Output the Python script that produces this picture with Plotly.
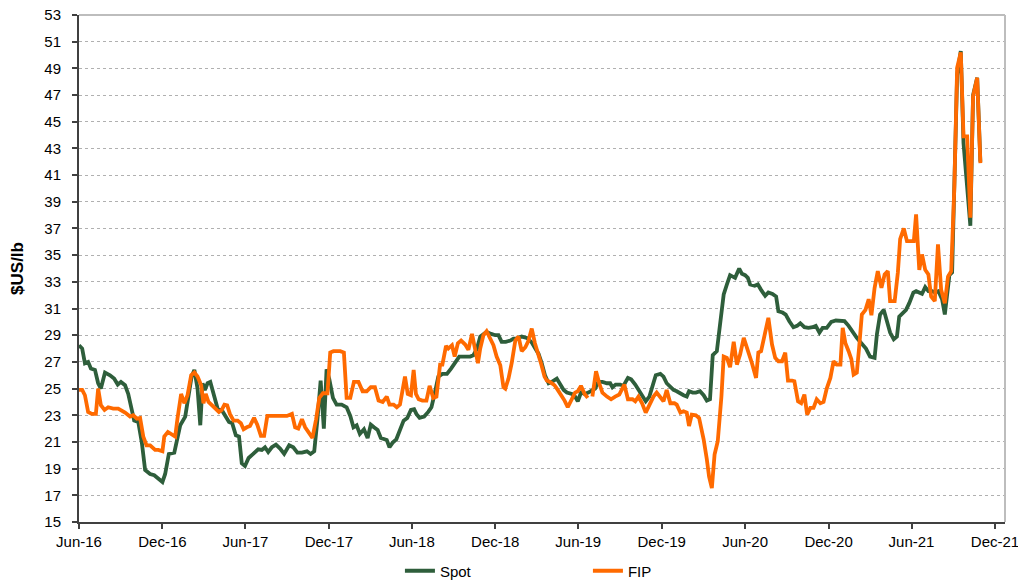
import plotly.graph_objects as go

spot_dates = [
"2016-06-01","2016-06-08","2016-06-14","2016-06-21","2016-06-27","2016-07-06","2016-07-13","2016-07-19","2016-07-28","2016-08-08",
"2016-08-17","2016-08-25","2016-09-01","2016-09-10","2016-09-17","2016-09-25","2016-09-30","2016-10-09","2016-10-17","2016-10-24",
"2016-11-04","2016-11-13","2016-11-22","2016-12-01","2016-12-07","2016-12-15","2016-12-27","2017-01-01","2017-01-09","2017-01-20",
"2017-01-27","2017-02-03","2017-02-09","2017-02-16","2017-02-22","2017-02-27","2017-03-04","2017-03-10","2017-03-16","2017-03-25",
"2017-04-01","2017-04-10","2017-04-17","2017-04-26","2017-05-03","2017-05-11","2017-05-18","2017-05-24","2017-05-31","2017-06-08",
"2017-06-18","2017-06-29","2017-07-07","2017-07-14","2017-07-21","2017-07-29","2017-08-07","2017-08-16","2017-08-25","2017-09-05",
"2017-09-14","2017-09-23","2017-10-03","2017-10-14","2017-10-22","2017-10-30","2017-11-06","2017-11-13","2017-11-20","2017-11-26",
"2017-12-02","2017-12-10","2017-12-18","2017-12-29","2018-01-09","2018-01-17","2018-01-24","2018-01-31","2018-02-07","2018-02-16",
"2018-02-24","2018-03-03","2018-03-10","2018-03-18","2018-03-25","2018-04-01","2018-04-07","2018-04-13","2018-04-20","2018-04-28",
"2018-05-05","2018-05-14","2018-05-22","2018-05-30","2018-06-06","2018-06-11","2018-06-18","2018-06-28","2018-07-07","2018-07-14",
"2018-07-21","2018-07-29","2018-08-07","2018-08-17","2018-08-26","2018-09-04","2018-09-13","2018-09-24","2018-10-07","2018-10-14",
"2018-10-22","2018-10-29","2018-11-05","2018-11-12","2018-11-22","2018-12-01","2018-12-08","2018-12-15","2018-12-24","2019-01-03",
"2019-01-10","2019-01-17","2019-01-28","2019-02-08","2019-02-18","2019-02-25","2019-03-06","2019-03-13","2019-03-20","2019-03-28",
"2019-04-04","2019-04-15","2019-04-22","2019-04-30","2019-05-07","2019-05-18","2019-05-25","2019-05-31","2019-06-07","2019-06-15",
"2019-06-23","2019-07-01","2019-07-08","2019-07-15","2019-07-24","2019-08-03","2019-08-10","2019-08-15","2019-08-22","2019-09-01",
"2019-09-08","2019-09-18","2019-09-25","2019-10-04","2019-10-13","2019-10-20","2019-10-27","2019-11-04","2019-11-11","2019-11-18",
"2019-11-28","2019-12-05","2019-12-12","2019-12-20","2019-12-27","2020-01-03","2020-01-11","2020-01-18","2020-01-25","2020-01-30",
"2020-02-07","2020-02-14","2020-02-23","2020-03-02","2020-03-09","2020-03-16","2020-03-22","2020-03-31","2020-04-07","2020-04-15",
"2020-04-22","2020-04-29","2020-05-10","2020-05-19","2020-05-25","2020-06-01","2020-06-07","2020-06-12","2020-06-22","2020-06-29",
"2020-07-06","2020-07-15","2020-07-22","2020-07-31","2020-08-08","2020-08-13","2020-08-22","2020-08-29","2020-09-06","2020-09-15",
"2020-09-23","2020-09-30","2020-10-09","2020-10-18","2020-10-27","2020-11-03","2020-11-11","2020-11-18","2020-11-27","2020-12-07",
"2020-12-17","2020-12-27","2021-01-05","2021-01-14","2021-01-23","2021-02-01","2021-02-11","2021-02-21","2021-03-02","2021-03-12",
"2021-03-17","2021-03-24","2021-04-01","2021-04-08","2021-04-15","2021-04-23","2021-04-30","2021-05-05","2021-05-12","2021-05-20",
"2021-05-27","2021-06-05","2021-06-11","2021-06-24","2021-07-01","2021-07-08","2021-07-16","2021-07-23","2021-07-30","2021-08-07",
"2021-08-13","2021-08-18","2021-08-23","2021-08-29","2021-09-03","2021-09-09","2021-09-17","2021-09-23","2021-10-08","2021-10-14",
"2021-10-23","2021-10-30"]
spot_values = [
28.25,28.0,26.9,27.0,26.5,26.4,25.4,25.0,26.2,26.0,
25.75,25.3,25.5,25.25,24.6,23.4,22.6,22.5,20.9,18.9,
18.6,18.5,18.25,18.0,18.6,20.1,20.2,21.1,22.25,22.9,
24.4,25.9,26.4,25.0,22.25,25.4,24.9,25.4,25.5,24.25,
23.5,23.4,23.0,22.5,22.4,21.5,21.4,19.4,19.2,19.8,
20.1,20.45,20.4,20.6,20.25,20.6,20.8,20.5,20.1,20.75,
20.6,20.2,20.2,20.3,20.1,20.3,22.7,25.6,22.0,26.45,
25.7,24.3,23.8,23.8,23.6,22.95,22.1,22.25,21.6,21.95,
21.3,22.3,22.1,21.9,21.3,21.2,21.15,20.6,20.95,21.2,
21.8,22.6,22.8,23.4,23.45,23.1,22.8,22.9,23.25,23.6,
24.6,25.9,26.1,26.1,26.5,27.0,27.4,27.4,27.4,27.5,
28.0,28.9,29.1,29.25,29.1,29.0,29.0,28.5,28.5,28.6,
28.75,28.75,28.9,28.8,28.5,28.1,27.6,26.9,26.0,25.4,
25.5,25.75,25.4,24.9,24.7,24.6,24.4,24.05,24.7,24.6,
24.7,24.9,25.0,25.5,25.5,25.4,25.4,25.1,25.3,25.3,
25.2,25.8,25.7,25.3,24.8,24.4,24.05,24.4,25.1,26.0,
26.1,25.9,25.4,25.1,24.9,24.8,24.6,24.5,24.4,24.8,
24.7,24.7,24.8,24.5,24.1,24.2,27.5,27.8,29.8,32.05,
32.8,33.5,33.3,34.0,33.6,33.5,33.3,32.8,32.7,32.8,
32.4,31.95,32.2,32.1,31.9,30.8,30.7,30.55,30.05,29.6,
29.7,29.9,29.6,29.55,29.6,29.7,29.2,29.55,29.55,30.0,
30.1,30.1,30.05,29.7,29.2,28.8,28.4,28.0,27.4,27.3,
29.05,30.55,30.9,30.05,29.2,28.7,28.9,30.4,30.6,30.9,
31.4,32.2,32.3,32.1,32.6,32.3,32.3,32.2,32.3,31.7,
30.55,31.9,33.5,33.7,39.5,48.5,50.3,43.4,37.2,47.0,
48.3,42.0]

fip_dates = [
"2016-06-01","2016-06-08","2016-06-14","2016-06-21","2016-06-29","2016-07-08","2016-07-13","2016-07-19","2016-07-27","2016-08-04",
"2016-08-15","2016-08-26","2016-09-10","2016-09-21","2016-09-28","2016-10-06","2016-10-13","2016-10-20","2016-10-27","2016-11-04",
"2016-11-15","2016-11-22","2016-12-01","2016-12-05","2016-12-13","2016-12-21","2016-12-29","2017-01-03","2017-01-11","2017-01-18",
"2017-01-25","2017-02-02","2017-02-09","2017-02-16","2017-02-24","2017-03-01","2017-03-06","2017-03-12","2017-03-19","2017-03-26",
"2017-04-04","2017-04-10","2017-04-16","2017-04-22","2017-04-28","2017-05-06","2017-05-15","2017-05-22","2017-05-28","2017-06-04",
"2017-06-11","2017-06-20","2017-06-27","2017-07-05","2017-07-12","2017-07-19","2017-08-01","2017-08-16","2017-08-31","2017-09-11",
"2017-09-18","2017-09-25","2017-10-03","2017-10-10","2017-10-17","2017-10-26","2017-11-03","2017-11-10","2017-11-18","2017-11-28",
"2017-12-04","2017-12-11","2017-12-26","2018-01-03","2018-01-09","2018-01-17","2018-01-25","2018-02-04","2018-02-13","2018-02-22",
"2018-03-03","2018-03-12","2018-03-20","2018-03-29","2018-04-07","2018-04-13","2018-04-22","2018-04-29","2018-05-06","2018-05-17",
"2018-05-23","2018-05-30","2018-06-05","2018-06-10","2018-06-16","2018-06-24","2018-07-03","2018-07-10","2018-07-18","2018-07-25",
"2018-08-02","2018-08-07","2018-08-15","2018-08-20","2018-08-28","2018-09-03","2018-09-10","2018-09-17","2018-09-26","2018-10-03",
"2018-10-11","2018-10-18","2018-10-24","2018-10-29","2018-11-05","2018-11-12","2018-11-20","2018-11-27","2018-12-04","2018-12-12",
"2018-12-19","2018-12-23","2018-12-30","2019-01-06","2019-01-14","2019-01-21","2019-01-28","2019-02-05","2019-02-12","2019-02-19",
"2019-02-26","2019-03-06","2019-03-12","2019-03-19","2019-03-24","2019-03-31","2019-04-10","2019-04-17","2019-04-25","2019-05-02",
"2019-05-09","2019-05-17","2019-05-25","2019-05-31","2019-06-07","2019-06-15","2019-06-22","2019-06-27","2019-07-02","2019-07-10",
"2019-07-17","2019-07-24","2019-08-03","2019-08-12","2019-08-21","2019-08-30","2019-09-10","2019-09-18","2019-09-28","2019-10-04",
"2019-10-11","2019-10-19","2019-10-27","2019-11-04","2019-11-13","2019-11-20","2019-11-28","2019-12-05","2019-12-12","2019-12-20",
"2019-12-29","2020-01-03","2020-01-11","2020-01-18","2020-01-25","2020-01-30","2020-02-05","2020-02-14","2020-02-21","2020-03-02",
"2020-03-09","2020-03-14","2020-03-20","2020-03-26","2020-04-02","2020-04-10","2020-04-15","2020-04-22","2020-04-29","2020-05-07",
"2020-05-14","2020-05-21","2020-05-29","2020-06-09","2020-06-16","2020-06-25","2020-06-30","2020-07-06","2020-07-14","2020-07-22",
"2020-07-30","2020-08-06","2020-08-13","2020-08-21","2020-08-28","2020-09-03","2020-09-12","2020-09-17","2020-09-25","2020-10-02",
"2020-10-09","2020-10-15","2020-10-22","2020-10-29","2020-11-05","2020-11-13","2020-11-20","2020-11-27","2020-12-05","2020-12-12",
"2020-12-19","2020-12-27","2021-01-01","2021-01-07","2021-01-14","2021-01-20","2021-01-25","2021-02-01","2021-02-06","2021-02-12",
"2021-02-20","2021-02-27","2021-03-05","2021-03-12","2021-03-19","2021-03-27","2021-04-03","2021-04-10","2021-04-15","2021-04-25",
"2021-05-02","2021-05-07","2021-05-15","2021-05-22","2021-05-29","2021-06-06","2021-06-11","2021-06-18","2021-06-24","2021-07-01",
"2021-07-08","2021-07-14","2021-07-22","2021-07-29","2021-08-05","2021-08-13","2021-08-20","2021-08-27","2021-09-03","2021-09-09",
"2021-09-17","2021-09-23","2021-10-01","2021-10-08","2021-10-14","2021-10-23","2021-10-30"]
fip_values = [
24.9,24.9,24.5,23.25,23.1,23.1,25.0,23.75,23.4,23.6,
23.5,23.5,23.2,22.9,23.0,22.75,22.8,21.4,20.75,20.75,
20.4,20.4,20.3,21.4,21.75,21.6,21.4,22.75,24.6,23.9,
24.5,26.0,26.2,25.9,25.25,23.9,24.6,24.0,23.75,23.6,
23.25,23.4,23.8,23.75,23.1,22.6,22.6,22.4,21.95,22.1,
22.2,22.8,22.3,21.45,21.45,22.95,22.95,22.95,22.95,23.1,
22.1,22.0,22.7,22.1,21.7,21.3,22.7,24.3,24.65,24.65,
27.7,27.8,27.8,27.7,24.3,24.3,25.5,25.5,24.8,24.8,
25.1,25.1,24.1,24.0,24.4,23.8,23.8,23.6,23.8,25.9,
24.6,24.5,26.4,24.6,24.2,24.1,24.1,25.2,24.3,24.4,
26.8,26.8,28.2,28.0,28.25,27.4,28.4,28.6,28.3,27.9,
29.1,27.9,26.9,28.0,29.0,29.3,28.8,28.25,27.4,26.75,
25.1,25.0,25.75,26.9,28.6,28.9,27.8,28.1,28.6,29.5,
28.4,27.6,26.8,25.9,25.6,25.5,25.25,24.9,24.5,24.1,
23.6,24.1,24.7,24.8,25.2,24.6,24.3,None,24.4,26.3,
25.4,24.7,24.4,24.2,24.4,24.55,25.3,24.2,24.2,24.05,
24.4,23.9,23.2,23.8,24.4,24.7,24.3,24.05,24.9,23.9,
23.9,23.8,23.2,23.3,23.2,22.2,23.05,23.0,22.8,21.2,
19.7,18.4,17.55,20.05,21.05,24.4,27.4,27.3,26.6,28.5,
26.8,27.55,28.8,27.7,26.9,25.8,27.7,27.8,29.05,30.3,
28.3,27.3,27.05,27.05,27.7,25.6,25.6,25.55,24.05,23.9,
24.55,23.05,23.55,23.55,24.2,23.9,24.0,25.0,25.8,27.05,
26.8,26.8,29.55,28.4,27.8,27.2,26.05,26.2,28.05,30.55,
30.9,31.7,30.5,32.55,33.8,32.55,33.55,33.8,31.55,31.55,
33.7,36.2,37.0,36.05,36.05,36.05,38.05,33.9,35.05,33.9,
33.55,31.9,31.55,35.8,32.4,31.4,33.4,33.8,40.2,49.05,
50.2,43.9,43.9,37.8,46.9,48.3,41.9]

y_ticks = list(range(15, 54, 2))

SPOT_COLOR = "#2E5E3B"
FIP_COLOR = "#FF6A00"
FONT = "Liberation Sans, Arial, sans-serif"

fig = go.Figure()
fig.add_trace(go.Scatter(x=spot_dates, y=spot_values, name="Spot", mode="lines",
                         line=dict(color=SPOT_COLOR, width=3.8)))
fig.add_trace(go.Scatter(x=fip_dates, y=fip_values, name="FIP", mode="lines",
                         line=dict(color=FIP_COLOR, width=3.8)))

# page body has an 8px margin, so the figure is sized/offset accordingly
fig.update_layout(
    width=1018, height=572,
    margin=dict(l=71, r=21, t=7, b=58, autoexpand=False),
    paper_bgcolor="white", plot_bgcolor="white",
    font=dict(family=FONT, size=15, color="#000000"),
    showlegend=True,
    legend=dict(orientation="h", xref="container", yref="container",
                x=0.385, y=0.0157, xanchor="left", yanchor="middle",
                entrywidth=143, font=dict(size=15), bgcolor="rgba(0,0,0,0)"),
    xaxis=dict(
        type="date", range=["2016-06-01", "2021-12-23"],
        tick0="2016-06-01", dtick="M6", tickformat="%b-%y",
        ticks="outside", ticklen=5, tickwidth=1.5, tickcolor="#404040",
        showline=True, linecolor="#404040", linewidth=2,
        showgrid=False, zeroline=False, automargin=False,
        tickfont=dict(size=15), ticklabeloverflow="allow",
    ),
    yaxis=dict(
        range=[15, 53], tickvals=y_ticks, ticktext=[str(v) for v in y_ticks],
        ticks="outside", ticklen=5, tickwidth=1.5, tickcolor="#404040",
        ticklabelstandoff=8, ticklabeloverflow="allow",
        showline=True, linecolor="#404040", linewidth=2,
        showgrid=True, gridcolor="#b0b0b0", gridwidth=1, griddash="dot",
        zeroline=False, automargin=False,
        title=dict(text="<b>$US/lb</b>", font=dict(size=17), standoff=18),
        tickfont=dict(size=15),
    ),
    shapes=[
        dict(type="line", xref="paper", yref="paper", x0=0, x1=1, y0=1, y1=1,
             line=dict(color="#bdbdbd", width=2)),
        dict(type="line", xref="paper", yref="paper", x0=1, x1=1, y0=0, y1=1,
             line=dict(color="#bdbdbd", width=2)),
    ],
)

fig.write_html("out.html")
